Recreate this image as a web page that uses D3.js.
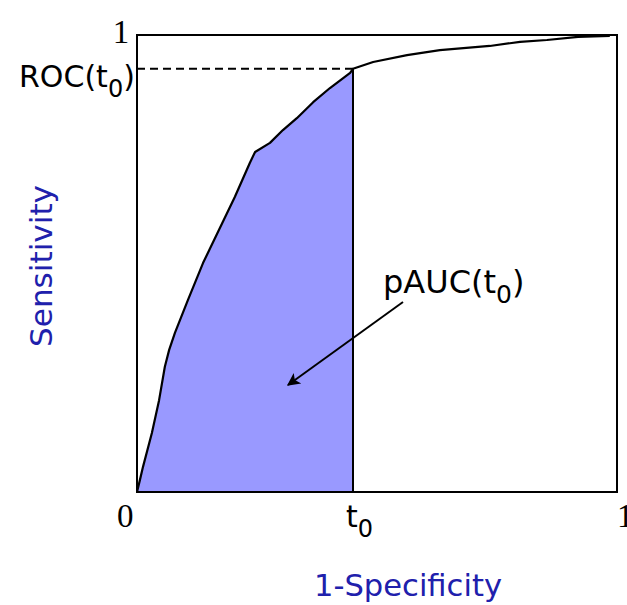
<!DOCTYPE html>
<html>
<head>
<meta charset="utf-8">
<script src="https://cdn.jsdelivr.net/npm/d3@7"></script>
<style>
	html, body { margin: 0; padding: 0; background: #fff; }
	svg { display: block; }
</style>
</head>
<body>
<div id="chart"></div>
<script>
// ROC curve points (1 - specificity, sensitivity)
var fpr = [0, 0.006, 0.0125, 0.031, 0.046, 0.058, 0.067, 0.079, 0.106, 0.1375, 0.204, 0.235, 0.246,
	0.277, 0.304, 0.333, 0.367, 0.402, 0.444, 0.45, 0.492, 0.5625, 0.631, 0.735, 0.798, 0.854, 0.919, 0.985];
var tpr = [0, 0.026, 0.055, 0.129, 0.201, 0.274, 0.311, 0.348, 0.42, 0.501, 0.646, 0.72, 0.744,
	0.764, 0.792, 0.818, 0.853, 0.884, 0.917, 0.926, 0.941, 0.956, 0.967, 0.976, 0.985, 0.989, 0.996, 0.998];

var T0 = 0.45;
var ROC_T0 = 0.926;

var xTickValues = [0, T0, 1];
var xTickLabels = ['0', 't', '1'];
var yTickValues = [1];
var yTickLabels = ['1'];

var svg_width = 627,
	svg_height = 605;
var plotLeft = 137, plotRight = 617, plotTop = 35, plotBottom = 492;
var FILL = '#9999ff';
var BLUE = '#2020ac';

var svg = d3.select('#chart').append('svg')
	.attr('width', svg_width)
	.attr('height', svg_height);

var x = d3.scaleLinear().domain([0, 1]).range([plotLeft, plotRight]);
var y = d3.scaleLinear().domain([0, 1]).range([plotBottom, plotTop]);

var pts = fpr.map(function(d, i) { return [d, tpr[i]]; });

// shaded partial area up to t0
var areaPts = pts.filter(function(p) { return p[0] <= T0; });
areaPts.push([T0, ROC_T0]);

var area = d3.area()
	.x(function(d) { return x(d[0]); })
	.y0(y(0))
	.y1(function(d) { return y(d[1]); });

svg.append('path')
	.datum(areaPts)
	.attr('d', area)
	.attr('fill', FILL);

// frame
svg.append('rect')
	.attr('x', x(0))
	.attr('y', y(1))
	.attr('width', x(1) - x(0))
	.attr('height', y(0) - y(1))
	.attr('fill', 'none')
	.attr('stroke', '#000')
	.attr('stroke-width', 2);

// t0 vertical line
svg.append('line')
	.attr('x1', x(T0)).attr('x2', x(T0))
	.attr('y1', y(0)).attr('y2', y(ROC_T0))
	.attr('stroke', '#000')
	.attr('stroke-width', 2);

// dashed line to ROC(t0)
svg.append('line')
	.attr('x1', x(0)).attr('x2', x(T0))
	.attr('y1', y(ROC_T0)).attr('y2', y(ROC_T0))
	.attr('stroke', '#000')
	.attr('stroke-width', 2)
	.attr('stroke-dasharray', '8,5');

// the curve
var line = d3.line()
	.x(function(d) { return x(d[0]); })
	.y(function(d) { return y(d[1]); });

svg.append('path')
	.datum(pts)
	.attr('d', line)
	.attr('fill', 'none')
	.attr('stroke', '#000')
	.attr('stroke-width', 2.2)
	.attr('stroke-linejoin', 'round');

// x tick labels
xTickValues.forEach(function(v, i) {
	var t = svg.append('text')
		.attr('y', 527)
		.attr('font-size', 33)
		.attr('fill', '#000');
	if (xTickLabels[i] == 't') {
		t.attr('x', x(v) - 7)
			.attr('font-family', 'DejaVu Sans, sans-serif')
			.attr('font-size', 30);
		t.append('tspan').text('t');
		t.append('tspan').attr('dy', 10).attr('font-size', 24).text('0');
	}
	else {
		t.attr('x', x(v) + (v == 0 ? -20 : 0))
			.attr('font-family', 'Liberation Serif, serif')
			.text(xTickLabels[i]);
	}
});

// y tick label
yTickValues.forEach(function(v, i) {
	svg.append('text')
		.attr('x', 121)
		.attr('y', y(v) + 8)
		.attr('text-anchor', 'middle')
		.attr('font-family', 'Liberation Serif, serif')
		.attr('font-size', 33)
		.text(yTickLabels[i]);
});

// ROC(t0) label
var roc = svg.append('text')
	.attr('x', 19)
	.attr('y', 87)
	.attr('font-family', 'DejaVu Sans, sans-serif')
	.attr('font-size', 30);
roc.append('tspan').text('ROC(t');
roc.append('tspan').attr('dy', 10).attr('font-size', 24).text('0');
roc.append('tspan').attr('dy', -10).text(')');

// pAUC(t0) label
var pauc = svg.append('text')
	.attr('x', 383)
	.attr('y', 293)
	.attr('font-family', 'DejaVu Sans, sans-serif')
	.attr('font-size', 32);
pauc.append('tspan').text('pAUC(t');
pauc.append('tspan').attr('dy', 10).attr('font-size', 25).text('0');
pauc.append('tspan').attr('dy', -10).text(')');

// arrow
var defs = svg.append('defs');
defs.append('marker')
	.attr('id', 'arrowhead')
	.attr('viewBox', '0 0 10 10')
	.attr('refX', 9)
	.attr('refY', 5)
	.attr('markerWidth', 17)
	.attr('markerHeight', 13)
	.attr('markerUnits', 'userSpaceOnUse')
	.attr('orient', 'auto')
	.append('path')
	.attr('d', 'M0,0 L10,5 L0,10 L2.5,5 z')
	.attr('fill', '#000');

svg.append('line')
	.attr('x1', 403).attr('y1', 302)
	.attr('x2', 288).attr('y2', 385)
	.attr('stroke', '#000')
	.attr('stroke-width', 2)
	.attr('marker-end', 'url(#arrowhead)');

// axis titles
svg.append('text')
	.attr('x', 408)
	.attr('y', 596)
	.attr('text-anchor', 'middle')
	.attr('font-family', 'DejaVu Sans, sans-serif')
	.attr('font-size', 31)
	.attr('textLength', 188)
	.attr('lengthAdjust', 'spacingAndGlyphs')
	.attr('fill', BLUE)
	.text('1-Specificity');

svg.append('text')
	.attr('transform', 'translate(52,266) rotate(-90)')
	.attr('text-anchor', 'middle')
	.attr('font-family', 'DejaVu Sans, sans-serif')
	.attr('font-size', 31)
	.attr('textLength', 162)
	.attr('lengthAdjust', 'spacingAndGlyphs')
	.attr('fill', BLUE)
	.text('Sensitivity');
</script>
</body>
</html>
